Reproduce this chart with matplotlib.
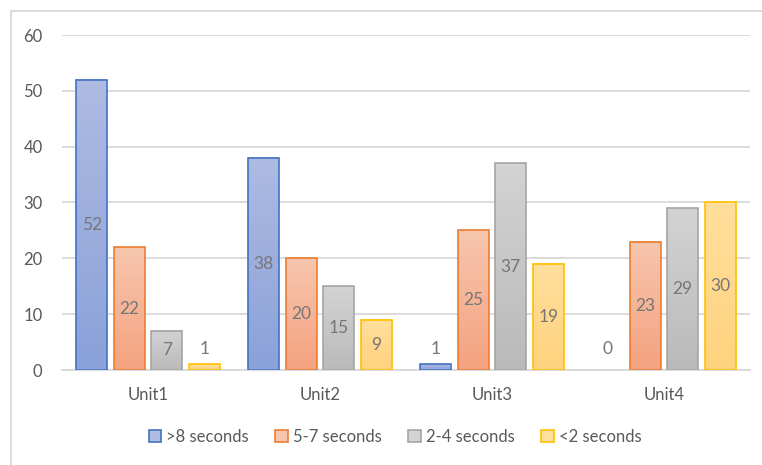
import numpy as np
import matplotlib.pyplot as plt
from matplotlib.colors import LinearSegmentedColormap
from matplotlib.patches import Rectangle
from matplotlib.lines import Line2D

plt.rcParams['font.family'] = ['Lato', 'DejaVu Sans']

units = ["Unit1", "Unit2", "Unit3", "Unit4"]
series = [">8 seconds", "5-7 seconds", "2-4 seconds", "<2 seconds"]
over_8 = [52, 38, 1, 0]
from_5_to_7 = [22, 20, 25, 23]
from_2_to_4 = [7, 15, 37, 29]
under_2 = [1, 9, 19, 30]

values = [over_8, from_5_to_7, from_2_to_4, under_2]
edge_colors = ["#4472c4", "#ed7d31", "#a5a5a5", "#ffc000"]
# fill gradient: light at the top, darker toward the base
fill_top = ["#aebbe2", "#f7c6ae", "#d3d3d3", "#ffdf9c"]
fill_bottom = ["#8aa1d9", "#f4a27f", "#bababa", "#ffd27e"]

fig = plt.figure(figsize=(7.62, 4.65), dpi=100)
ax = fig.add_axes([62 / 762, 95 / 465, 688 / 762, 335 / 465])

x = np.arange(len(units))
width = 0.18
step = 0.218
label_color = "#767676"

for i, vals in enumerate(values):
    cmap = LinearSegmentedColormap.from_list("g%d" % i, [fill_bottom[i], fill_top[i]])
    grad = np.linspace(0, 1, 64).reshape(-1, 1)
    for j, v in enumerate(vals):
        xc = x[j] + (i - 1.5) * step
        x0 = xc - width / 2
        if v > 0:
            ax.imshow(grad, extent=(x0, x0 + width, 0, v), origin="lower",
                      cmap=cmap, aspect="auto", zorder=2)
            ax.add_patch(Rectangle((x0, 0), width, v, fill=False,
                                   edgecolor=edge_colors[i], linewidth=1.2, zorder=3))
        ly = v / 2 if v >= 5 else 3.8
        ax.text(xc, ly, str(v), ha="center", va="center", fontsize=12.5,
                color=label_color, zorder=4)

ax.set_xlim(-0.5, len(units) - 0.5)
ax.set_ylim(0, 60)
ax.set_yticks(range(0, 61, 10))
ax.set_xticks(x)
ax.set_xticklabels(units)
ax.yaxis.grid(True, color="#d9d9d9", linewidth=1.3, zorder=0)
ax.set_axisbelow(True)
for s in ["top", "right", "left"]:
    ax.spines[s].set_visible(False)
ax.spines["bottom"].set_color("#d9d9d9")
ax.spines["bottom"].set_linewidth(1.3)
ax.tick_params(axis="both", length=0, labelsize=12, colors="#595959")
ax.tick_params(axis="x", pad=12)
ax.tick_params(axis="y", pad=14)

handles = [Rectangle((0, 0), 1, 1, facecolor=fill_top[i], edgecolor=edge_colors[i],
                     linewidth=1.2) for i in range(len(series))]
fig.legend(handles, series, loc="center", bbox_to_anchor=(395 / 762, 1 - 437 / 465),
           ncol=4, frameon=False, fontsize=12, labelcolor="#595959",
           handlelength=0.75, handleheight=0.75, handletextpad=0.3, columnspacing=1.6)

# chart frame (clipped at right and bottom)
fig.add_artist(Line2D([10.5 / 762, 1], [1 - 11 / 465, 1 - 11 / 465],
                      transform=fig.transFigure, color="#d9d9d9", linewidth=1.3))
fig.add_artist(Line2D([10.5 / 762, 10.5 / 762], [0, 1 - 11 / 465],
                      transform=fig.transFigure, color="#d9d9d9", linewidth=1.3))

fig.savefig("out.png", dpi=100)
